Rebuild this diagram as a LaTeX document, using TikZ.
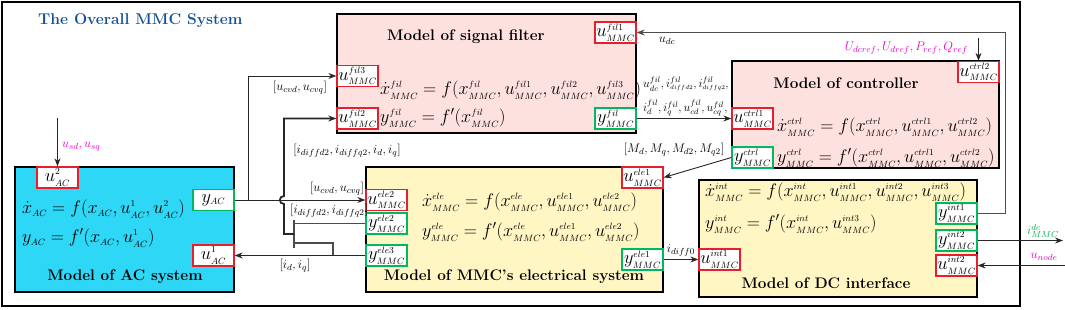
\RequirePackage{fix-cm}
\documentclass[tikz,border=0pt]{standalone}
\usepackage{amsmath}
\usetikzlibrary{arrows.meta}
\newcommand{\vsc}[3]{#1^{\scriptscriptstyle #2}_{\scriptscriptstyle #3}}
\newcommand{\vsb}[2]{#1_{\scriptscriptstyle #2}}
\definecolor{acblue}{RGB}{45,215,245}
\definecolor{pinkbg}{RGB}{253,225,222}
\definecolor{yellowbg}{RGB}{255,246,196}
\definecolor{portred}{RGB}{230,30,45}
\definecolor{portgreen}{RGB}{0,185,95}
\definecolor{magentalbl}{RGB}{230,0,200}
\definecolor{greenlbl}{RGB}{0,170,80}
\definecolor{titleblue}{RGB}{20,80,150}
\tikzset{
  bigbox/.style={draw=black, line width=1.6pt, inner sep=0pt},
  port/.style={fill=white, line width=1.3pt, minimum width=41pt, minimum height=21pt, inner sep=0pt, font=\fontsize{18.4}{20}\selectfont},
  rport/.style={port, draw=portred},
  gport/.style={port, draw=portgreen},
  eqn/.style={anchor=west, inner sep=0pt, font=\fontsize{18.2}{20}\selectfont},
  ttl/.style={inner sep=0pt, font=\fontsize{15.3}{17}\selectfont\bfseries},
  lbl/.style={inner sep=0pt, font=\fontsize{12.5}{14}\selectfont},
  smlbl/.style={inner sep=0pt, font=\fontsize{12}{14}\selectfont},
  conn/.style={line width=0.9pt, draw=black!85},
  arr/.style={conn, -{Stealth[length=8pt,width=6pt]}},
  busl/.style={line width=1.1pt, draw=black!70},
  thickbus/.style={line width=1.8pt, draw=black!85, -{Stealth[length=8pt,width=6pt]}},
  fbline/.style={line width=0.8pt, draw=black!70, -{Stealth[length=8pt,width=6pt]}},
}
\begin{document}
\begin{tikzpicture}[x=1pt,y=-1pt]
\useasboundingbox (0,0) rectangle (1065,310);
\draw[line width=2.6pt] (2,2) rectangle (1020,306);
\node[anchor=west, inner sep=0pt, text=titleblue, font=\fontsize{15.6}{17}\selectfont\bfseries] (title) at (38,21) {The Overall MMC System};

% big boxes
\node[bigbox, fill=acblue, minimum width=219pt, minimum height=125pt] (ac) at (124.5,229.5) {};
\node[bigbox, fill=pinkbg, minimum width=299pt, minimum height=119pt] (fil) at (486.5,73.5) {};
\node[bigbox, fill=pinkbg, minimum width=267pt, minimum height=107pt] (ctrl) at (865.5,114.5) {};
\node[bigbox, fill=yellowbg, minimum width=297pt, minimum height=125pt] (ele) at (514.5,229.5) {};
\node[bigbox, fill=yellowbg, minimum width=278pt, minimum height=117pt] (dc) at (838,238.5) {};

% titles
\node[ttl] (acttl) at (125,277) {Model of AC system};
\node[ttl] (filttl) at (466,37) {Model of signal filter};
\node[ttl] (ctrlttl) at (846,83) {Model of controller};
\node[ttl] (elettl) at (514,277) {Model of MMC’s electrical system};
\node[ttl] (dcttl) at (826,283) {Model of DC interface};

% equations
\node[eqn] (aceq1) at (22,209) {$\vsb{\dot{x}}{AC}=f(\vsb{x}{AC},\vsc{u}{1}{AC},\vsc{u}{2}{AC})$};
\node[eqn] (aceq2) at (22,238) {$\vsb{y}{AC}=f'(\vsb{x}{AC},\vsc{u}{1}{AC})$};
\node[eqn] (fileq1) at (380,90) {$\vsc{\dot{x}}{fil}{MMC}=f(\vsc{x}{fil}{MMC},\vsc{u}{fil1}{MMC},\vsc{u}{fil2}{MMC},\vsc{u}{fil3}{MMC})$};
\node[eqn] (fileq2) at (380,118) {$\vsc{y}{fil}{MMC}=f'(\vsc{x}{fil}{MMC})$};
\node[eqn] (ctrleq1) at (777,127) {$\vsc{\dot{x}}{ctrl}{MMC}=f(\vsc{x}{ctrl}{MMC},\vsc{u}{ctrl1}{MMC},\vsc{u}{ctrl2}{MMC})$};
\node[eqn] (ctrleq2) at (777,158) {$\vsc{y}{ctrl}{MMC}=f'(\vsc{x}{ctrl}{MMC},\vsc{u}{ctrl1}{MMC},\vsc{u}{ctrl2}{MMC})$};
\node[eqn] (eleeq1) at (422,202) {$\vsc{\dot{x}}{ele}{MMC}=f(\vsc{x}{ele}{MMC},\vsc{u}{ele1}{MMC},\vsc{u}{ele2}{MMC})$};
\node[eqn] (eleeq2) at (422,232) {$\vsc{y}{ele}{MMC}=f'(\vsc{x}{ele}{MMC},\vsc{u}{ele1}{MMC},\vsc{u}{ele2}{MMC})$};
\node[eqn] (dceq1) at (705,192) {$\vsc{\dot{x}}{int}{MMC}=f(\vsc{x}{int}{MMC},\vsc{u}{int1}{MMC},\vsc{u}{int2}{MMC},\vsc{u}{int3}{MMC})$};
\node[eqn] (dceq2) at (705,224) {$\vsc{y}{int}{MMC}=f'(\vsc{x}{int}{MMC},\vsc{u}{int3}{MMC})$};

% ports
\node[rport] (uac2) at (57.5,177.5) {$\vsc{u}{2}{AC}$};
\node[gport] (yac) at (213.5,200) {$\vsb{y}{AC}$};
\node[rport] (uac1) at (213.5,255.5) {$\vsc{u}{1}{AC}$};
\node[rport] (ufil1) at (615.5,32.5) {$\vsc{u}{fil1}{MMC}$};
\node[rport] (ufil3) at (357.5,76) {$\vsc{u}{fil3}{MMC}$};
\node[rport] (ufil2) at (357.5,118.5) {$\vsc{u}{fil2}{MMC}$};
\node[gport] (yfil) at (615.5,118.5) {$\vsc{y}{fil}{MMC}$};
\node[rport] (uctrl2) at (978.5,72) {$\vsc{u}{ctrl2}{MMC}$};
\node[rport] (uctrl1) at (752.5,118.5) {$\vsc{u}{ctrl1}{MMC}$};
\node[gport] (yctrl) at (752.5,157.5) {$\vsc{y}{ctrl}{MMC}$};
\node[rport] (uele1) at (642.5,177.5) {$\vsc{u}{ele1}{MMC}$};
\node[rport] (uele2) at (386.5,200) {$\vsc{u}{ele2}{MMC}$};
\node[gport] (yele2) at (386.5,223.5) {$\vsc{y}{ele2}{MMC}$};
\node[gport] (yele3) at (386.5,255.5) {$\vsc{y}{ele3}{MMC}$};
\node[gport] (yele1) at (642.5,259.5) {$\vsc{y}{ele1}{MMC}$};
\node[rport] (uint1) at (719.5,259.5) {$\vsc{u}{int1}{MMC}$};
\node[gport] (yint1) at (956.5,213.5) {$\vsc{y}{int1}{MMC}$};
\node[gport] (yint2) at (956.5,240.5) {$\vsc{y}{int2}{MMC}$};
\node[rport] (uint2) at (956.5,265.5) {$\vsc{u}{int2}{MMC}$};

% external inputs
\coordinate (usdin) at (57.5,118);
\draw[arr] (usdin) -- (uac2.north);
\node[lbl, anchor=west, text=magentalbl] (usdlbl) at (62,147) {$u_{sd},u_{sq}$};
\coordinate (urefin) at (978.5,38);
\draw[arr] (urefin) -- (uctrl2.north);
\node[lbl, anchor=east, text=magentalbl] (ureflbl) at (968,48) {$U_{dcref},U_{dref},P_{ref},Q_{ref}$};
\coordinate (idcout) at (1063,240.5);
\draw[arr] (yint2.east) -- (idcout);
\node[lbl, text=greenlbl] (idclbl) at (1043,231) {$i^{dc}_{MMC}$};
\coordinate (unodein) at (1065,265.5);
\draw[arr] (unodein) -- (uint2.east);
\node[lbl, text=magentalbl] (unodelbl) at (1044,257) {$u_{node}$};

% filter -> controller
\draw[arr] (yfil.east) -- (uctrl1.west);
\node[smlbl, anchor=west] (fl1) at (643,84) {$u^{fil}_{dc},i^{fil}_{\scriptscriptstyle diffd2},i^{fil}_{\scriptscriptstyle diffq2},$};
\node[smlbl, anchor=west] (fl2) at (643,108) {$i^{fil}_{d},i^{fil}_{q},u^{fil}_{cd},u^{fil}_{cq},$};

% controller -> electrical
\draw[arr] (yctrl.west) -- (uele1.east);
\node[lbl] (mlbl) at (674,150) {$[M_d,M_q,M_{d2},M_{q2}]$};

% electrical -> dc
\draw[arr] (yele1.east) -- (uint1.west);
\node[lbl] (idiff0) at (681,250) {$i_{diff0}$};

% dc -> filter (u_dc)
\coordinate (fbcorner) at (1005,32.5);
\draw[fbline] (yint1.east) -| (fbcorner) -- (ufil1.east);
\node[lbl] (udclbl) at (667,41) {$u_{dc}$};

% AC -> electrical and filter
\draw[arr] (yac.east) -- (uele2.west);
\node[lbl] (ucv1) at (337,189) {$[u_{cvd},u_{cvq}]$};
\coordinate (br) at (248,200);
\draw[arr] (br) |- (ufil3.west);
\node[lbl] (ucv2) at (300,88) {$[u_{cvd},u_{cvq}]$};

% bus from electrical
\coordinate (bA) at (294,220);
\coordinate (bB) at (294,248);
\draw[busl] (bA) -- (bB);
\draw[busl] (yele2.west) -- (yele2.west -| bA);
\coordinate (c333) at (333,243);
\draw[busl] (c333 |- yele3.west) -- (c333) -- (c333 -| bA);
\draw[arr] (yele3.west) -- (uac1.east);
\node[lbl] (idiff2) at (329,211) {$[i_{diffd2},i_{diffq2}]$};
\node[lbl] (idq) at (295,266) {$[i_d,i_q]$};
\coordinate (bj) at (294,234);
\coordinate (bk) at (284,234);
\coordinate (hopB) at (284,204);
\coordinate (hopT) at (284,196);
\draw[thickbus] (bj) -- (bk) -- (hopB) .. controls ([xshift=-5.5pt]hopB) and ([xshift=-5.5pt]hopT) .. (hopT) |- (ufil2.west);
\node[lbl] (iall) at (347,151) {$[i_{diffd2},i_{diffq2},i_d,i_q]$};
\end{tikzpicture}
\end{document}
